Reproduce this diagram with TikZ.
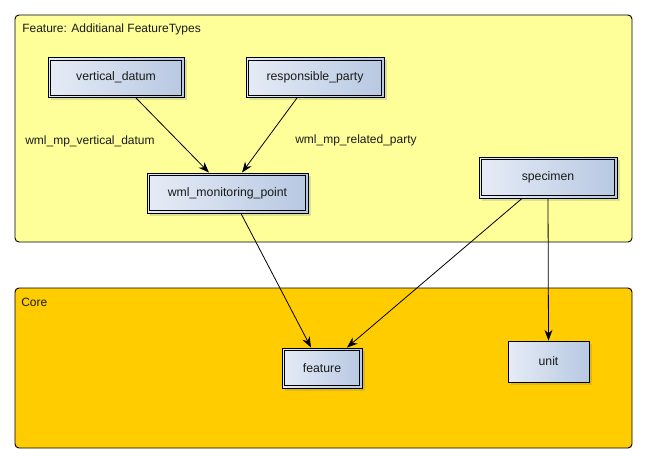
\documentclass[tikz,border=0pt]{standalone}
\usepackage{fontspec}
\setmainfont{Liberation Sans}
\usetikzlibrary{arrows.meta,shadows}
\definecolor{pkgyellow}{HTML}{FFFF99}
\definecolor{pkgorange}{HTML}{FFCC00}
\definecolor{boxleft}{HTML}{E6ECF6}
\definecolor{boxright}{HTML}{B7C8E2}
\definecolor{txt}{HTML}{1A1A1A}
\tikzset{
  pkg/.style={draw=black, line width=0.7pt, rounded corners=3pt},
  pkglabel/.style={anchor=west, inner sep=0pt, text=txt, font=\fontsize{9}{10}\selectfont},
  classbox/.style={draw=black, line width=0.7pt, left color=boxleft, right color=boxright,
    shading angle=90, inner sep=0pt, text=txt, font=\fontsize{9.2}{10}\selectfont,
    drop shadow={opacity=0.25, shadow xshift=2pt, shadow yshift=-2pt}},
  innerborder/.style={draw=black, line width=0.6pt},
  rolelabel/.style={anchor=west, inner sep=0pt, text=txt, font=\fontsize{9}{10}\selectfont},
  assoc/.style={draw=black, line width=0.6pt, -{Stealth[length=8pt,width=6pt]}}
}
\begin{document}
\begin{tikzpicture}[x=0.75pt, y=-0.75pt]
  \useasboundingbox (0,0) rectangle (645,464);
  \fill[white] (0,0) rectangle (645,464);

  % packages
  \draw[pkg, fill=pkgyellow] (15,15) rectangle (632,242);
  \node[pkglabel] (pkgfeat) at (22,29) {Feature: Additianal FeatureTypes};
  \draw[pkg, fill=pkgorange] (15,288) rectangle (632,448);
  \node[pkglabel] (pkgcore) at (21,302) {Core};

  % classes
  \node[classbox, minimum width=102pt, minimum height=30pt] (vd) at (116,77.5) {vertical\_datum};
  \node[classbox, minimum width=103.5pt, minimum height=30pt] (rp) at (315,77.5) {responsible\_party};
  \node[classbox, minimum width=120.75pt, minimum height=30pt] (wml) at (227.5,193) {wml\_monitoring\_point};
  \node[classbox, minimum width=103.5pt, minimum height=30.75pt] (spec) at (548,177.5) {specimen};
  \node[classbox, minimum width=60pt, minimum height=30pt] (feat) at (322,368) {feature};
  \node[classbox, minimum width=60.75pt, minimum height=30.75pt] (unit) at (548.5,361.5) {unit};

  % inner frame of the doubly bordered classes
  \foreach \n in {vd,rp,wml,spec,feat}
    \draw[innerborder] ([shift={(2.3pt,2.3pt)}]\n.south west) rectangle ([shift={(-2.3pt,-2.3pt)}]\n.north east);

  % role labels
  \node[rolelabel] (lvd) at (25,141) {wml\_mp\_vertical\_datum};
  \node[rolelabel] (lrp) at (295,140) {wml\_mp\_related\_party};

  % associations
  \draw[assoc] ([xshift=15pt]vd.south) -- ([xshift=-13.9pt]wml.north);
  \draw[assoc] ([xshift=-13.5pt]rp.south) -- ([xshift=10.9pt]wml.north);
  \draw[assoc] ([xshift=10.1pt]wml.south) -- ([xshift=-8.25pt]feat.north);
  \draw[assoc] ([xshift=-19.5pt]spec.south) -- ([xshift=18.75pt]feat.north);
  \draw[assoc] (spec.south) -- (unit.north);
\end{tikzpicture}
\end{document}
